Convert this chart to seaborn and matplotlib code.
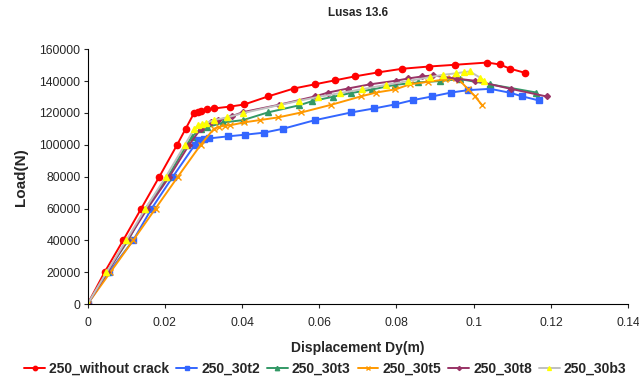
import numpy as np
import pandas as pd
import matplotlib
matplotlib.use("Agg")
import matplotlib.pyplot as plt
from matplotlib.ticker import FuncFormatter, MultipleLocator
import seaborn as sns

# datos
x_nocrack = [0, 0.0044, 0.0092, 0.0139, 0.0186, 0.0232, 0.0254, 0.0276, 0.0285, 0.0293, 0.031, 0.0328,
             0.037, 0.0406, 0.0467, 0.0534, 0.0590, 0.064, 0.0692, 0.0752, 0.0815, 0.0884, 0.0952,
             0.1035, 0.1067, 0.1095, 0.1132]
y_nocrack = [0, 20000, 40000, 60000, 80000, 100000, 110000, 120000, 120700, 121500, 122200, 122800,
             124000, 125300, 130300, 135300, 138000, 140400, 142900, 145400, 147700, 149100, 150200,
             151600, 150400, 147700, 145200]

x_30t2 = [0, 0.0055, 0.0118, 0.0166, 0.0221, 0.0278, 0.0287, 0.0301, 0.0315, 0.0364, 0.0407, 0.0457,
          0.0507, 0.0588, 0.0683, 0.0742, 0.0796, 0.0842, 0.0892, 0.0942, 0.0986, 0.1043, 0.1095,
          0.1124, 0.1169]
y_30t2 = [0, 20000, 40000, 60000, 80000, 100000, 103200, 103600, 104000, 105300, 106300, 107600,
          110100, 115400, 120300, 122800, 125300, 128000, 130300, 132800, 134300, 135100, 132600,
          130500, 127800]

x_30t3 = [0, 0.0050, 0.0105, 0.0150, 0.0208, 0.0257, 0.0270, 0.0293, 0.031, 0.0352, 0.0403, 0.0467,
          0.0547, 0.0582, 0.0635, 0.0681, 0.0737, 0.0796, 0.0855, 0.0913, 0.0964, 0.1043, 0.1162]
y_30t3 = [0, 20000, 40000, 60000, 80000, 100000, 105000, 110000, 111000, 114000, 115500, 120300,
          124700, 127400, 130100, 132400, 134700, 137600, 139100, 140000, 141200, 137900, 132800]

x_30t5 = [0, 0.0059, 0.0118, 0.0176, 0.0234, 0.0293, 0.0327, 0.0341, 0.0355, 0.0369, 0.0404, 0.0446,
          0.0494, 0.0554, 0.0631, 0.0707, 0.0748, 0.0796, 0.0836, 0.0882, 0.0925, 0.094, 0.0963,
          0.0986, 0.1003, 0.1021]
y_30t5 = [0, 20000, 40000, 60000, 80000, 100000, 110000, 111300, 112000, 112200, 114000, 115500,
          117200, 120300, 125100, 130300, 132800, 134700, 138000, 139500, 141000, 142000, 140600,
          134700, 130500, 125100]

x_30t8 = [0, 0.0051, 0.0103, 0.0155, 0.0212, 0.0263, 0.0293, 0.0319, 0.0339, 0.0374, 0.0403, 0.0496,
          0.0588, 0.0624, 0.0674, 0.0731, 0.0799, 0.083, 0.0867, 0.0895, 0.0958, 0.1003, 0.1096,
          0.1189]
y_30t8 = [0, 20000, 40000, 60000, 80000, 100000, 109900, 114000, 115500, 118000, 120500, 125100,
          130300, 132800, 135300, 137900, 140200, 141600, 142900, 143500, 141400, 140200, 135100,
          130300]

x_30b3 = [0, 0.0049, 0.0100, 0.0150, 0.0203, 0.0252, 0.0276, 0.0286, 0.0296, 0.0306, 0.0328, 0.0362,
          0.0403, 0.0500, 0.0548, 0.0597, 0.0653, 0.0711, 0.0774, 0.083, 0.0886, 0.092, 0.0953,
          0.0975, 0.099, 0.1016, 0.1027]
y_30b3 = [0, 20000, 40000, 60000, 80000, 100000, 109900, 112200, 113000, 113600, 115500, 117200,
          119900, 125100, 127600, 130000, 132400, 134900, 137600, 140000, 142400, 143900, 144800,
          145600, 146000, 142200, 140000]

series = [
    ("250_without crack", x_nocrack, y_nocrack, "#FF0000", "o", "#FF0000", 4.5),
    ("250_30t2", x_30t2, y_30t2, "#3366FF", "s", "#3366FF", 4),
    ("250_30t3", x_30t3, y_30t3, "#339966", "^", "#339966", 4.5),
    ("250_30t5", x_30t5, y_30t5, "#FF9900", "x", "#FF9900", 4.5),
    ("250_30t8", x_30t8, y_30t8, "#993366", "D", "#993366", 3),
    ("250_30b3", x_30b3, y_30b3, "#C0C0C0", "^", "#FFFF00", 4),
]

sns.set_style("white")
plt.rcParams["font.family"] = ["Liberation Sans", "DejaVu Sans"]

fig = plt.figure(figsize=(6.39, 3.87), dpi=100)
ax = fig.add_axes([0.137, 0.214, 0.846, 0.659])

for name, xs, ys, col, mk, mcol, ms in series:
    df = pd.DataFrame({"x": xs, "y": ys})
    sns.lineplot(data=df, x="x", y="y", sort=False, ax=ax, color=col, linewidth=1.4,
                 marker=mk, markersize=ms, markerfacecolor=mcol, markeredgecolor=mcol,
                 markeredgewidth=1.0, label=name)

ax.set_xlim(0, 0.14)
ax.set_ylim(0, 160000)
ax.xaxis.set_major_locator(MultipleLocator(0.02))
ax.yaxis.set_major_locator(MultipleLocator(20000))
ax.xaxis.set_major_formatter(FuncFormatter(lambda v, p: "{:g}".format(round(v, 4))))
ax.yaxis.set_major_formatter(FuncFormatter(lambda v, p: "{:d}".format(int(round(v)))))
ax.tick_params(axis="both", labelsize=8.8, length=3, width=0.8, direction="out",
               bottom=True, left=True, pad=2)
ax.tick_params(axis="x", pad=6)
for s in ["top", "right"]:
    ax.spines[s].set_visible(False)
for s in ["left", "bottom"]:
    ax.spines[s].set_color("black")
    ax.spines[s].set_linewidth(0.8)

ax.set_title("Lusas 13.6", fontsize=8.5, fontweight="bold", pad=24)
ax.set_xlabel("Displacement Dy(m)", fontsize=10, fontweight="bold", labelpad=9)
ax.set_ylabel("Load(N)", fontsize=11, fontweight="bold", labelpad=8)

ax.legend(loc="center", bbox_to_anchor=(0.44, -0.255), ncol=6, frameon=False,
          prop={"weight": "bold", "size": 10}, handlelength=1.5,
          handletextpad=0.3, columnspacing=0.5, markerscale=0.7)

fig.savefig("out.png", dpi=100)
